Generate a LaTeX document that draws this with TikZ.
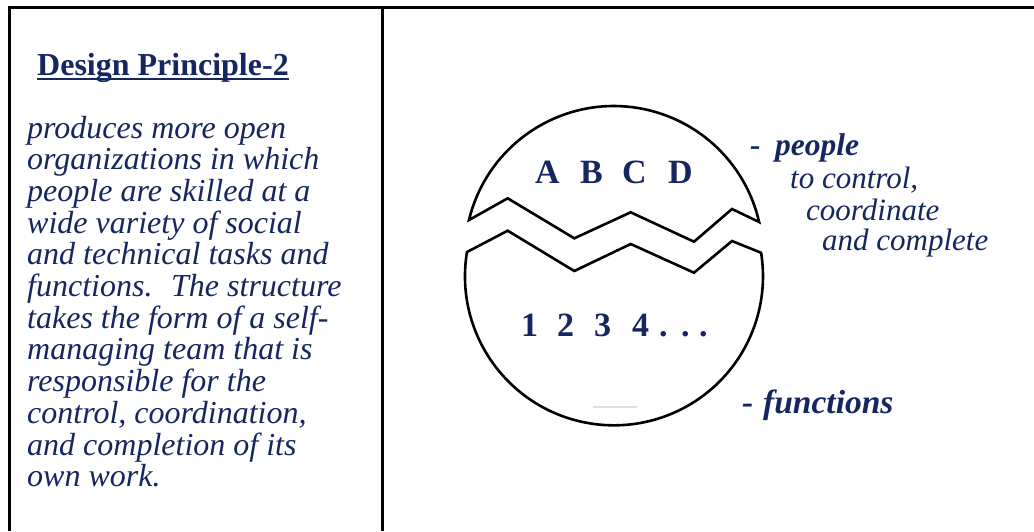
\documentclass[tikz,border=0pt]{standalone}
\usepackage{fontspec}
\setmainfont{Liberation Serif}
\definecolor{navy}{RGB}{22,38,96}
\begin{document}
\begin{tikzpicture}[x=1pt,y=1pt,
  frame/.style={line width=3pt},
  egg/.style={line width=2.6pt, line join=miter, miter limit=10},
  body/.style={font=\fontsize{32}{32}\selectfont\itshape, text=navy, inner sep=0pt, anchor=base west},
  side/.style={font=\fontsize{31}{32}\selectfont\itshape, text=navy, inner sep=0pt, anchor=base west},
  bolditem/.style={font=\fontsize{31.5}{32}\selectfont\bfseries\itshape, text=navy, inner sep=0pt, anchor=base west},
  big/.style={font=\fontsize{34}{36}\selectfont\bfseries, text=navy, inner sep=0pt, anchor=base west},
  titletext/.style={font=\fontsize{32}{32}\selectfont\bfseries, text=navy, inner sep=0pt, anchor=base west}]
\useasboundingbox (0,0) rectangle (1034,-531);
\fill[white] (0,0) rectangle (1034,-531);
% frame
\draw[frame] (9,-531) -- (9,-7) -- (1034,-7);
\draw[frame] (382.5,-7) -- (382.5,-531);
% title
\node[titletext] (title) at (37,-75) {Design Principle-2};
\draw[line width=2pt, navy] ([yshift=-4pt]title.base west) -- ([yshift=-4pt]title.base east);
% body text
\foreach \t [count=\i] in {produces more open, organizations in which, people are skilled at a, wide variety of social, and technical tasks and, {functions.~ The structure}, takes the form of a self-, managing team that is, responsible for the, {control, coordination,}, and completion of its, own work.}
  \node[body] (line\i) at (27,{-138-31.7*(\i-1)}) {\t};
% broken circle
\draw[egg] (469,-220) arc[start angle=166.4, end angle=12.8, radius=149] -- (732,-209) -- (694,-241.7) -- (630.7,-212.3) -- (574.3,-238.3) -- (507.7,-198.3) -- cycle;
\draw[egg] (467,-252) arc[start angle=170.6, end angle=369.1, radius=149] -- (732,-241) -- (694,-272.7) -- (630.7,-244) -- (574.3,-271) -- (507.7,-230.7) -- cycle;
\draw[gray!25, line width=1.5pt] (593,-407) -- (637,-407);
% letters and numbers
\node[big] (abcd) at (535,-183) {\makebox[45pt][l]{A}\makebox[42pt][l]{B}\makebox[46pt][l]{C}D};
\node[big] (nums) at (521,-336) {\makebox[36pt][l]{1}\makebox[37pt][l]{2}\makebox[38pt][l]{3}\makebox[27pt][l]{4}\makebox[22pt][l]{.}\makebox[18pt][l]{.}.};
% right labels
\node[bolditem] (people) at (750,-155) {\makebox[25pt][l]{-}people};
\node[side] (ctrl) at (790,-188) {to control,};
\node[side] (coord) at (806,-220) {coordinate};
\node[side] (compl) at (822,-250) {and complete};
\node[bolditem, font=\fontsize{33.5}{34}\selectfont\bfseries\itshape] (funcs) at (742,-413) {\makebox[21pt][l]{-}functions};
\end{tikzpicture}
\end{document}
